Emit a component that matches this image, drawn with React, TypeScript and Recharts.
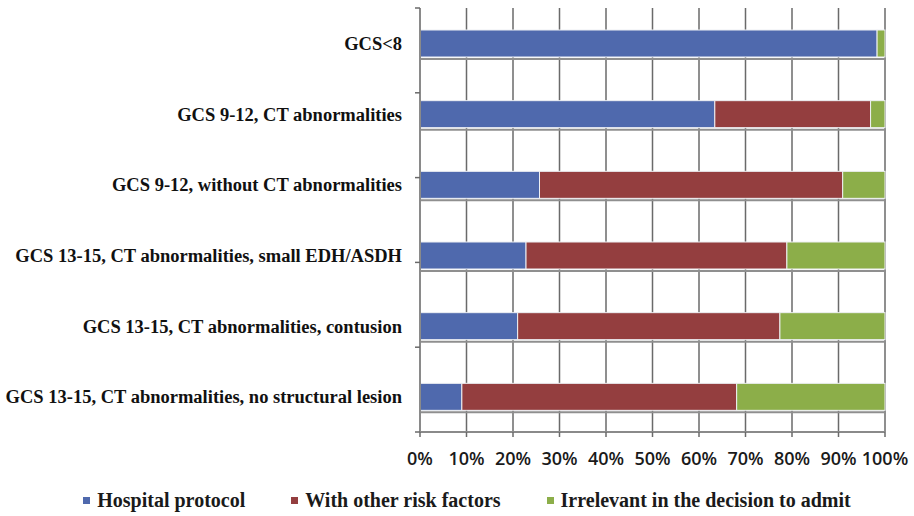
import React from 'react';
import { BarChart, Bar, XAxis, YAxis, CartesianGrid, Legend } from 'recharts';

const categories = [
  'GCS<8',
  'GCS 9-12, CT abnormalities',
  'GCS 9-12, without CT abnormalities',
  'GCS 13-15, CT abnormalities, small EDH/ASDH',
  'GCS 13-15, CT abnormalities, contusion',
  'GCS 13-15, CT abnormalities, no structural lesion',
];
const hospitalProtocol = [98.3, 63.4, 25.7, 22.8, 21.0, 9.0];
const otherRiskFactors = [0, 33.5, 65.2, 56.1, 56.4, 59.1];
const irrelevant = [1.7, 3.1, 9.1, 21.1, 22.6, 31.9];
const seriesNames = ['Hospital protocol', 'With other risk factors', 'Irrelevant in the decision to admit'];
const seriesColors = ['#4F69AD', '#943E3F', '#8CAE49'];
const xTicks = [0, 10, 20, 30, 40, 50, 60, 70, 80, 90, 100];
const boundaryTicks = [0, 1, 2, 3, 4, 5, 6];

const data = categories.map((c, i) => ({
  category: c,
  hp: hospitalProtocol[i],
  orf: otherRiskFactors[i],
  irr: irrelevant[i],
}));

const BaseLineShape = (props: any) => {
  const { x, y, width, height, fill, background } = props;
  return (
    <g>
      {background ? (
        <line
          x1={background.x}
          x2={background.x + background.width}
          y1={y + height + 2}
          y2={y + height + 2}
          stroke="#8f8f8f"
          strokeWidth={2}
        />
      ) : null}
      <rect x={x} y={y} width={width} height={height} fill={fill} stroke="#eef0f4" strokeWidth={1} />
    </g>
  );
};

const PlainShape = (props: any) => {
  const { x, y, width, height, fill } = props;
  if (!width || width <= 0) return null;
  return <rect x={x} y={y} width={width} height={height} fill={fill} stroke="#eef0f4" strokeWidth={1} />;
};

const LegendContent = () => (
  <div
    style={{
      width: 914,
      height: 30,
      display: 'flex',
      justifyContent: 'center',
      alignItems: 'center',
      fontFamily: '"Liberation Serif", "Times New Roman", serif',
      fontSize: 20,
      fontWeight: 'bold',
      color: '#1a1a1a',
      paddingLeft: 20,
      paddingBottom: 2,
      boxSizing: 'border-box',
    }}
  >
    {seriesNames.map((n, i) => (
      <div key={n} style={{ display: 'flex', alignItems: 'center', marginRight: i < 2 ? 46 : 0 }}>
        <span style={{ display: 'inline-block', width: 7, height: 7, background: seriesColors[i], marginRight: 7 }} />
        <span>{n}</span>
      </div>
    ))}
  </div>
);

export default function App() {
  return (
    <div style={{ position: 'absolute', left: 0, top: 0, background: '#fff' }}>
      <BarChart
        width={914}
        height={516}
        data={data}
        layout="vertical"
        margin={{ top: 8, right: 29, left: 0, bottom: 0 }}
        barSize={27}
      >
        <CartesianGrid horizontal={false} vertical={true} stroke="#6a6a6a" strokeWidth={1.5} />
        <XAxis
          type="number"
          domain={[0, 100]}
          ticks={xTicks}
          tickFormatter={(v: number) => `${v}%`}
          height={54}
          tickSize={5}
          tickMargin={15}
          interval={0}
          axisLine={{ stroke: '#8a8a8a', strokeWidth: 2 }}
          tickLine={{ stroke: '#6a6a6a', strokeWidth: 1.5 }}
          tick={{ fill: '#1a1a1a', fontSize: 18, fontWeight: 600, fontFamily: '"Open Sans", sans-serif' }}
        />
        <YAxis
          yAxisId="bnd"
          type="number"
          domain={[0, 6]}
          ticks={boundaryTicks}
          allowDataOverflow
          width={5}
          tickSize={5}
          tickFormatter={() => ''}
          axisLine={{ stroke: '#8a8a8a', strokeWidth: 2 }}
          tickLine={{ stroke: '#6a6a6a', strokeWidth: 1.5 }}
        />
        <YAxis
          yAxisId="cat"
          type="category"
          dataKey="category"
          width={415}
          tickSize={0}
          tickMargin={13}
          axisLine={false}
          tickLine={false}
          interval={0}
          tick={{ fill: '#111', fontSize: 18.5, fontWeight: 'bold', fontFamily: '"Liberation Serif", "Times New Roman", serif' }}
        />
        <Legend verticalAlign="bottom" content={<LegendContent />} wrapperStyle={{ left: 0, width: 914 }} />
        <Bar yAxisId="cat" dataKey="hp" stackId="a" name={seriesNames[0]} fill={seriesColors[0]} isAnimationActive={false} shape={<BaseLineShape />} />
        <Bar yAxisId="cat" dataKey="orf" stackId="a" name={seriesNames[1]} fill={seriesColors[1]} isAnimationActive={false} shape={<PlainShape />} />
        <Bar yAxisId="cat" dataKey="irr" stackId="a" name={seriesNames[2]} fill={seriesColors[2]} isAnimationActive={false} shape={<PlainShape />} />
      </BarChart>
    </div>
  );
}
